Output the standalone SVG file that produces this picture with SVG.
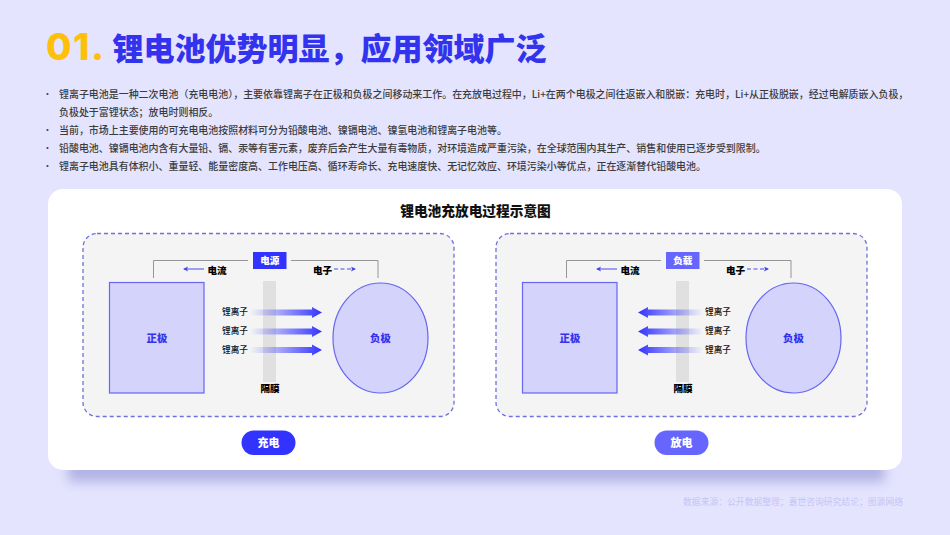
<svg xmlns="http://www.w3.org/2000/svg" width="950" height="535" viewBox="0 0 950 535">
<style>
text{font-family:"Noto Sans CJK SC","Noto Sans",sans-serif}
.b{font-size:9.96px;fill:#3c3c3c;font-weight:500}
.c{text-anchor:middle;font-weight:900}
.pole{fill:#d3d3fc;stroke:#6666f0;stroke-width:1.2}
.sm{font-size:8.6px;fill:#111;text-anchor:middle;font-weight:500}
.lb{font-size:9.6px;font-weight:900;fill:#000;text-anchor:middle}
.pn{font-size:10.4px;font-weight:900;fill:#3333ee;text-anchor:middle}
.wire{fill:none;stroke:#8a8a8a;stroke-width:.9}
.ln{stroke:#4a4ae8;stroke-width:1;fill:none}
.panel{fill:#f4f4f5;stroke:#6f6fe0;stroke-width:1.3;stroke-dasharray:4 3}
</style>
<defs>
<linearGradient id="gr" x1="0" x2="1" y1="0" y2="0"><stop offset="0" stop-color="#3333ff" stop-opacity="0"/><stop offset="1" stop-color="#3333ff"/></linearGradient>
<linearGradient id="gl" x1="0" x2="1" y1="0" y2="0"><stop offset="0" stop-color="#3333ff"/><stop offset="1" stop-color="#3333ff" stop-opacity="0"/></linearGradient>
<filter id="sh" x="-5%" y="-50%" width="110%" height="200%"><feGaussianBlur stdDeviation="6"/></filter>
<marker id="ah" markerWidth="6" markerHeight="6" refX="4" refY="2.5" orient="auto-start-reverse" markerUnits="userSpaceOnUse"><path d="M0 0L5 2.5L0 5L1 2.5Z" fill="#4a4ae8"/></marker>
</defs>
<rect width="950" height="535" fill="#e4e4ff"/>
<g id="title">
<text x="46" y="60" font-size="37" font-weight="800" fill="#ffc00a" letter-spacing="1.5" style="font-family:Inter,'Noto Sans',sans-serif">01.</text>
<text x="112.500" y="59.500" font-size="31" font-weight="900" fill="#3333ee">锂电池优势明显，应用领域广泛</text>
</g>
<g id="bullets">
<circle cx="47.500" cy="94" r="1.100" fill="#404040"/><circle cx="47.500" cy="130" r="1.100" fill="#404040"/><circle cx="47.500" cy="148" r="1.100" fill="#404040"/><circle cx="47.500" cy="166" r="1.100" fill="#404040"/>
<text class="b" x="59" y="97.500">锂离子电池是一种二次电池（充电电池），主要依靠锂离子在正极和负极之间移动来工作。在充放电过程中，Li+在两个电极之间往返嵌入和脱嵌：充电时，Li+从正极脱嵌，经过电解质嵌入负极，</text>
<text class="b" x="59" y="115.500">负极处于富锂状态；放电时则相反。</text>
<text class="b" x="59" y="133.500">当前，市场上主要使用的可充电电池按照材料可分为铅酸电池、镍镉电池、镍氢电池和锂离子电池等。</text>
<text class="b" x="59" y="151.500">铅酸电池、镍镉电池内含有大量铅、镉、汞等有害元素，废弃后会产生大量有毒物质，对环境造成严重污染，在全球范围内其生产、销售和使用已逐步受到限制。</text>
<text class="b" x="59" y="169.500">锂离子电池具有体积小、重量轻、能量密度高、工作电压高、循环寿命长、充电速度快、无记忆效应、环境污染小等优点，正在逐渐替代铅酸电池。</text>
</g>
<rect x="68" y="458" width="817" height="24" fill="#b2b2e4" filter="url(#sh)"/>
<rect id="card" x="48" y="189" width="854" height="281" rx="15" fill="#fff"/>
<text id="chart-title" class="c" x="475.500" y="216" font-size="13.700" fill="#111">锂电池充放电过程示意图</text>
<g id="charge-panel">
<rect class="panel" x="83" y="233.500" width="371" height="183" rx="14"/>
<rect x="263" y="281" width="13" height="101" fill="#e0e0e0"/>
<g id="c-pos"><rect class="pole" x="109.500" y="282.500" width="94.500" height="110.500"/><text class="pn" x="157" y="342">正极</text></g>
<g id="c-neg"><ellipse class="pole" cx="380.500" cy="338" rx="47.500" ry="55" stroke-width="1"/><text class="pn" x="380.500" y="342">负极</text></g>
<g id="c-src"><rect x="253" y="252" width="33.500" height="17" fill="#3333ff"/><text class="c" x="269.800" y="264.300" font-size="9.600" fill="#fff">电源</text></g>
<text class="lb" x="217" y="273.500">电流</text><text class="lb" x="322.500" y="273.500">电子</text>
<g id="c-ions">
<text class="sm" x="235" y="315">锂离子</text><text class="sm" x="235" y="334">锂离子</text><text class="sm" x="235" y="353">锂离子</text>
<path d="M250 309.500H312V307L322 312.500L312 318V315.500H250Z" fill="url(#gr)"/>
<path d="M250 328.500H312V326L322 331.500L312 337V334.500H250Z" fill="url(#gr)"/>
<path d="M250 347H312V344.500L322 350L312 355.500V353H250Z" fill="url(#gr)"/>
</g>
<text class="lb" x="270" y="392">隔膜</text>
</g>
<g id="discharge-panel">
<rect class="panel" x="496" y="233.500" width="371" height="183" rx="14"/>
<rect x="676" y="281" width="13" height="101" fill="#e0e0e0"/>
<g id="d-pos"><rect class="pole" x="522.500" y="282.500" width="94.500" height="110.500"/><text class="pn" x="570" y="342">正极</text></g>
<g id="d-neg"><ellipse class="pole" cx="793.500" cy="338" rx="47.500" ry="55" stroke-width="1"/><text class="pn" x="793.500" y="342">负极</text></g>
<g id="d-load"><rect x="666" y="252" width="33.500" height="17" fill="#6666ff"/><text class="c" x="682.800" y="264.300" font-size="9.600" fill="#fff">负载</text></g>
<text class="lb" x="630" y="273.500">电流</text><text class="lb" x="735.500" y="273.500">电子</text>
<g id="d-ions">
<text class="sm" x="718" y="315">锂离子</text><text class="sm" x="718" y="334">锂离子</text><text class="sm" x="718" y="353">锂离子</text>
<path d="M703 309.500H648V307L638 312.500L648 318V315.500H703Z" fill="url(#gl)"/>
<path d="M703 328.500H648V326L638 331.500L648 337V334.500H703Z" fill="url(#gl)"/>
<path d="M703 347H648V344.500L638 350L648 355.500V353H703Z" fill="url(#gl)"/>
</g>
<text class="lb" x="683" y="392">隔膜</text>
</g>
<g id="connectors">
<path class="wire" d="M153.500 278V260.500H248M291 260.500H378V278"/>
<path class="wire" d="M566.500 278V260.500H661M704 260.500H791V278"/>
<path class="ln" d="M204 269H184" marker-end="url(#ah)"/>
<path class="ln" d="M334 269H355" stroke-dasharray="4 2.500" marker-end="url(#ah)"/>
<path class="ln" d="M617 269H597" marker-end="url(#ah)"/>
<path class="ln" d="M747 269H768" stroke-dasharray="4 2.500" marker-end="url(#ah)"/>
</g>
<g id="tag-charge"><rect x="241.500" y="430.500" width="54" height="24.500" rx="12.200" fill="#3333ff"/><text class="c" x="268.500" y="447" font-size="11" fill="#fff">充电</text></g>
<g id="tag-discharge"><rect x="654.500" y="430.500" width="54" height="24.500" rx="12.200" fill="#6666ff"/><text class="c" x="681.500" y="447" font-size="11" fill="#fff">放电</text></g>
<text id="source" x="903" y="504.500" font-size="8.800" fill="#c4c4f4" text-anchor="end">数据来源：公开数据整理；嘉世咨询研究结论；图源网络</text>
</svg>
